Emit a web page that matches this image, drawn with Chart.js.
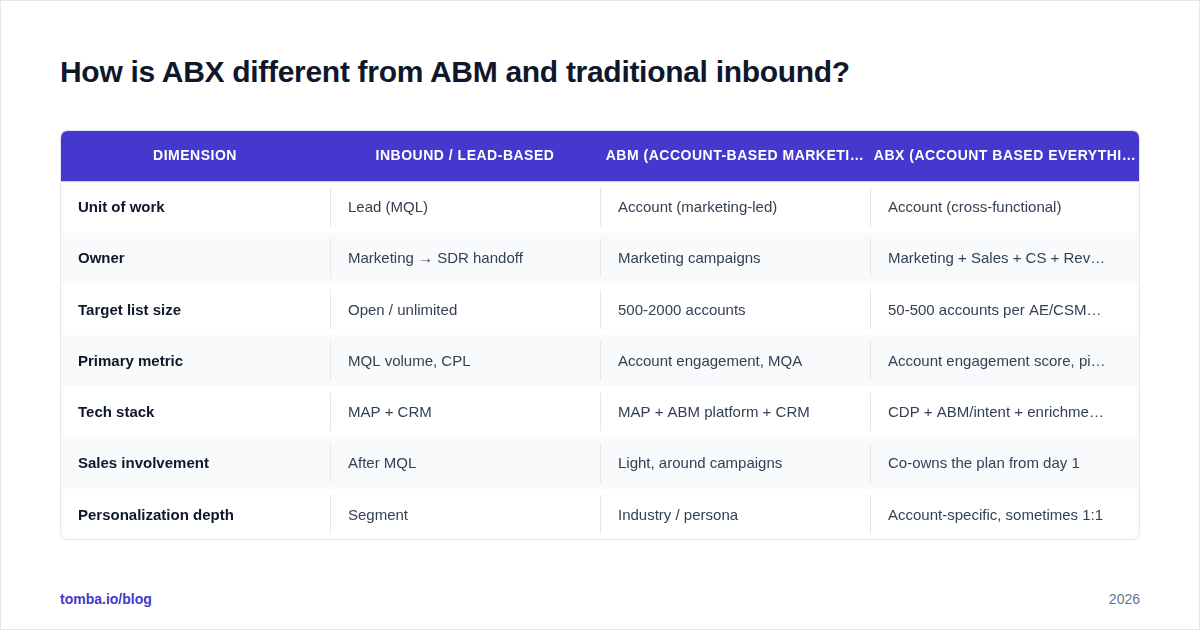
<!DOCTYPE html>
<html><head><meta charset="utf-8">
<script src="https://cdn.jsdelivr.net/npm/chart.js@4"></script>
<style>
html,body{margin:0;padding:0;background:#fff;}
body{width:1200px;height:630px;position:relative;font-family:"Liberation Sans",Arial,sans-serif;overflow:hidden;}
.frame{position:absolute;left:0;top:0;width:1198px;height:628px;border:1px solid #e2e8f0;}
h1{position:absolute;left:60px;top:55px;margin:0;font-size:30px;font-weight:700;color:#0f172a;letter-spacing:-0.3px;}
.wrap{position:absolute;left:60px;top:130px;width:1080px;height:410px;}
.foot{position:absolute;top:591px;font-size:14px;}
</style></head><body>
<div class="frame"></div>
<h1>How is ABX different from ABM and traditional inbound?</h1>
<div class="wrap"><canvas id="c"></canvas></div>
<div class="foot" style="left:60px;color:#4338ca;font-weight:700;">tomba.io/blog</div>
<div class="foot" style="right:60px;color:#64748b;">2026</div>
<script>
const columns = ["DIMENSION","INBOUND / LEAD-BASED","ABM (ACCOUNT-BASED MARKETING)","ABX (ACCOUNT BASED EVERYTHING)"];
const dimensions = ["Unit of work","Owner","Target list size","Primary metric","Tech stack","Sales involvement","Personalization depth"];
const inbound = ["Lead (MQL)","Marketing \u2192 SDR handoff","Open / unlimited","MQL volume, CPL","MAP + CRM","After MQL","Segment"];
const abm = ["Account (marketing-led)","Marketing campaigns","500-2000 accounts","Account engagement, MQA","MAP + ABM platform + CRM","Light, around campaigns","Industry / persona"];
const abx = ["Account (cross-functional)","Marketing + Sales + CS + RevOps","50-500 accounts per AE/CSM pod","Account engagement score, pipeline velocity","CDP + ABM/intent + enrichment + CRM","Co-owns the plan from day 1","Account-specific, sometimes 1:1"];
const tableCols = [dimensions, inbound, abm, abx];

const points = [];
tableCols.forEach((col,ci)=>col.forEach((t,ri)=>points.push({x:ci+0.5,y:ri+1.5,text:t,ci,ri})));
columns.forEach((t,ci)=>points.push({x:ci+0.5,y:0.5,text:t,ci,ri:-1}));

function fit(ctx,t,w){
  if(ctx.measureText(t).width<=w) return t;
  while(t.length&&ctx.measureText(t+'\u2026').width>w) t=t.slice(0,-1);
  return t.trimEnd()+'\u2026';
}
function rr(ctx,x,y,w,h,r,tl,bl){
  ctx.beginPath();
  ctx.moveTo(x+r,y);ctx.lineTo(x+w-r,y);ctx.quadraticCurveTo(x+w,y,x+w,y+r);
  ctx.lineTo(x+w,y+h-r);ctx.quadraticCurveTo(x+w,y+h,x+w-r,y+h);
  ctx.lineTo(x+r,y+h);ctx.quadraticCurveTo(x,y+h,x,y+h-r);
  ctx.lineTo(x,y+r);ctx.quadraticCurveTo(x,y,x+r,y);ctx.closePath();
}
const tablePlugin={id:'tbl',beforeDatasetsDraw(chart){
  const {ctx,scales:{x,y}}=chart;
  const L=x.getPixelForValue(0),R=x.getPixelForValue(4);
  const T=y.getPixelForValue(0),H=y.getPixelForValue(1),B=y.getPixelForValue(8);
  ctx.save();
  rr(ctx,L+0.5,T+0.5,R-L-1,B-T-1,8);ctx.clip();
  ctx.fillStyle='#fff';ctx.fillRect(L,T,R-L,B-T);
  for(let r=0;r<dimensions.length;r++){
    if(r%2===1){ctx.fillStyle='#f8fafc';const a=y.getPixelForValue(r+1),b=y.getPixelForValue(r+2);ctx.fillRect(L,a,R-L,b-a);}
  }
  ctx.fillStyle='#4538cf';ctx.fillRect(L,T,R-L,H-T);
  ctx.strokeStyle='#e5e7eb';ctx.lineWidth=1;
  for(let r=0;r<dimensions.length;r++){
    const a=y.getPixelForValue(r+1),b=y.getPixelForValue(r+2);
    for(let c=1;c<4;c++){const px=Math.round(x.getPixelForValue(c))+0.5;ctx.beginPath();ctx.moveTo(px,a+6);ctx.lineTo(px,b-6);ctx.stroke();}
  }
  ctx.restore();
  ctx.save();ctx.strokeStyle='#e2e8f0';rr(ctx,L+0.5,T+0.5,R-L-1,B-T-1,8);ctx.stroke();ctx.restore();
  ctx.save();ctx.textBaseline='middle';
  const cw=x.getPixelForValue(1)-x.getPixelForValue(0);
  points.forEach(p=>{
    const cx=x.getPixelForValue(p.x),cy=y.getPixelForValue(p.y);
    if(p.ri<0){
      ctx.font='bold 14px "Liberation Sans",Arial,sans-serif';ctx.fillStyle='#ffffff';ctx.textAlign='center';
      ctx.letterSpacing='0.5px';
      ctx.fillText(fit(ctx,p.text,cw-4),cx,cy+1);
      ctx.letterSpacing='0px';
    } else {
      ctx.textAlign='left';
      if(p.ci===0){ctx.font='bold 15px "Liberation Sans",Arial,sans-serif';ctx.fillStyle='#0f172a';}
      else{ctx.font='15px "Liberation Sans",Arial,sans-serif';ctx.fillStyle='#334155';}
      ctx.fillText(fit(ctx,p.text,cw-48),cx-cw/2+18,cy+1);
    }
  });
  ctx.restore();
}};
new Chart(document.getElementById('c'),{
  type:'scatter',
  data:{datasets:[{data:points,pointRadius:0,pointHoverRadius:0}]},
  options:{responsive:true,maintainAspectRatio:false,animation:false,events:[],
    layout:{padding:0},
    plugins:{legend:{display:false},tooltip:{enabled:false}},
    scales:{x:{type:'linear',min:0,max:4,display:false},y:{type:'linear',min:0,max:8,reverse:true,display:false}}},
  plugins:[tablePlugin]
});
</script>
</body></html>
